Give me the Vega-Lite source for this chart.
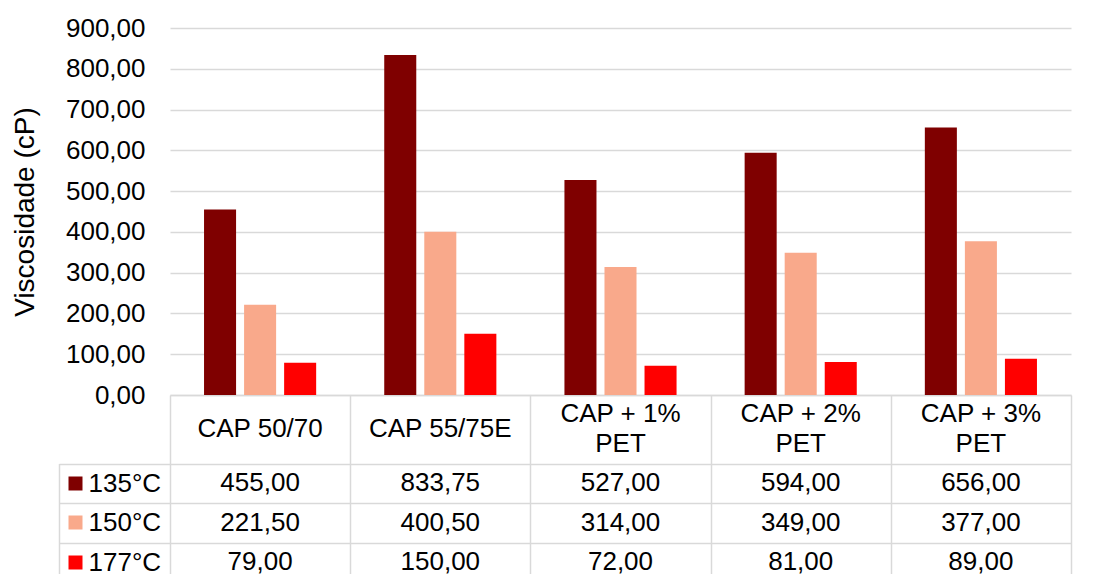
{
  "$schema": "https://vega.github.io/schema/vega-lite/v6.json",
  "autosize": {"type": "none"},
  "padding": {"left": 170, "top": 28, "right": 22, "bottom": 179},
  "width": 901,
  "height": 367,
  "config": {
    "font": "Liberation Sans",
    "view": {"stroke": null},
    "axis": {"labelColor": "#000000", "titleColor": "#000000", "labelFont": "Liberation Sans", "titleFont": "Liberation Sans"}
  },
  "data": {
    "values": [
      {"amostra": "CAP 50/70", "temperatura": "135°C", "viscosidade": 455.00},
      {"amostra": "CAP 50/70", "temperatura": "150°C", "viscosidade": 221.50},
      {"amostra": "CAP 50/70", "temperatura": "177°C", "viscosidade": 79.00},
      {"amostra": "CAP 55/75E", "temperatura": "135°C", "viscosidade": 833.75},
      {"amostra": "CAP 55/75E", "temperatura": "150°C", "viscosidade": 400.50},
      {"amostra": "CAP 55/75E", "temperatura": "177°C", "viscosidade": 150.00},
      {"amostra": "CAP + 1% PET", "temperatura": "135°C", "viscosidade": 527.00},
      {"amostra": "CAP + 1% PET", "temperatura": "150°C", "viscosidade": 314.00},
      {"amostra": "CAP + 1% PET", "temperatura": "177°C", "viscosidade": 72.00},
      {"amostra": "CAP + 2% PET", "temperatura": "135°C", "viscosidade": 594.00},
      {"amostra": "CAP + 2% PET", "temperatura": "150°C", "viscosidade": 349.00},
      {"amostra": "CAP + 2% PET", "temperatura": "177°C", "viscosidade": 81.00},
      {"amostra": "CAP + 3% PET", "temperatura": "135°C", "viscosidade": 656.00},
      {"amostra": "CAP + 3% PET", "temperatura": "150°C", "viscosidade": 377.00},
      {"amostra": "CAP + 3% PET", "temperatura": "177°C", "viscosidade": 89.00}
    ]
  },
  "resolve": {"scale": {"y": "independent"}, "axis": {"y": "independent"}},
  "layer": [
    {
      "mark": {"type": "bar"},
      "encoding": {
        "x": {
          "field": "amostra", "type": "nominal",
          "sort": ["CAP 50/70", "CAP 55/75E", "CAP + 1% PET", "CAP + 2% PET", "CAP + 3% PET"],
          "scale": {"type": "band", "paddingInner": 0, "paddingOuter": 0},
          "axis": {
            "title": null, "orient": "bottom", "labels": false,
            "ticks": true, "tickSize": 187, "tickBand": "extent", "tickColor": "#d9d9d9", "tickWidth": 1.5,
            "domain": true, "domainColor": "#d9d9d9", "domainWidth": 1.5, "grid": false
          }
        },
        "xOffset": {
          "field": "temperatura", "type": "nominal",
          "sort": ["135°C", "150°C", "177°C"],
          "scale": {"paddingInner": 0.2, "paddingOuter": 0.85}
        },
        "y": {
          "field": "viscosidade", "type": "quantitative",
          "scale": {"domain": [0, 900], "nice": false},
          "axis": {
            "orient": "left",
            "values": [0, 100, 200, 300, 400, 500, 600, 700, 800, 900],
            "labelExpr": "replace(format(datum.value, '.2f'), '.', ',')",
            "title": "Viscosidade (cP)", "titleFontSize": 28,
            "titleFontWeight": "normal", "titlePadding": 26,
            "labelFontSize": 26, "labelPadding": 25, "ticks": false, "domain": false,
            "gridColor": "#d9d9d9", "gridWidth": 1.5
          }
        },
        "color": {
          "field": "temperatura", "type": "nominal",
          "scale": {"domain": ["135°C", "150°C", "177°C"], "range": ["#7f0000", "#f9a98b", "#ff0000"]},
          "legend": null
        }
      }
    },
    {
      "transform": [
        {"filter": "datum.temperatura === '135°C' && indexof(datum.amostra, ' PET') < 0"}
      ],
      "mark": {"type": "text", "fontSize": 26, "baseline": "middle", "align": "center", "color": "#000000"},
      "encoding": {
        "x": {
          "field": "amostra", "type": "nominal",
          "sort": ["CAP 50/70", "CAP 55/75E", "CAP + 1% PET", "CAP + 2% PET", "CAP + 3% PET"],
          "scale": {"type": "band", "paddingInner": 0, "paddingOuter": 0},
          "axis": {
            "title": null, "orient": "bottom", "labels": false,
            "ticks": true, "tickSize": 187, "tickBand": "extent", "tickColor": "#d9d9d9", "tickWidth": 1.5,
            "domain": true, "domainColor": "#d9d9d9", "domainWidth": 1.5, "grid": false
          }
        },
        "y": {
          "datum": "amostra", "type": "nominal",
          "scale": {"type": "band", "domain": ["amostra"], "range": [367, 435.5], "paddingInner": 0, "paddingOuter": 0},
          "axis": null
        },
        "text": {"field": "amostra", "type": "nominal"}
      }
    },
    {
      "transform": [
        {"filter": "datum.temperatura === '135°C' && indexof(datum.amostra, ' PET') > 0"},
        {"calculate": "replace(datum.amostra, ' PET', '\\nPET')", "as": "cabecalho"}
      ],
      "mark": {"type": "text", "fontSize": 26, "baseline": "middle", "align": "center", "color": "#000000", "lineBreak": "\n", "lineHeight": 30, "dy": -15},
      "encoding": {
        "x": {
          "field": "amostra", "type": "nominal",
          "sort": ["CAP 50/70", "CAP 55/75E", "CAP + 1% PET", "CAP + 2% PET", "CAP + 3% PET"],
          "scale": {"type": "band", "paddingInner": 0, "paddingOuter": 0},
          "axis": {
            "title": null, "orient": "bottom", "labels": false,
            "ticks": true, "tickSize": 187, "tickBand": "extent", "tickColor": "#d9d9d9", "tickWidth": 1.5,
            "domain": true, "domainColor": "#d9d9d9", "domainWidth": 1.5, "grid": false
          }
        },
        "y": {
          "datum": "amostra", "type": "nominal",
          "scale": {"type": "band", "domain": ["amostra"], "range": [367, 435.5], "paddingInner": 0, "paddingOuter": 0},
          "axis": null
        },
        "text": {"field": "cabecalho", "type": "nominal"}
      }
    },
    {
      "transform": [
        {"calculate": "replace(format(datum.viscosidade, '.2f'), '.', ',')", "as": "rotulo"}
      ],
      "mark": {"type": "text", "fontSize": 26, "baseline": "middle", "align": "center", "color": "#000000"},
      "encoding": {
        "x": {
          "field": "amostra", "type": "nominal",
          "sort": ["CAP 50/70", "CAP 55/75E", "CAP + 1% PET", "CAP + 2% PET", "CAP + 3% PET"],
          "scale": {"type": "band", "paddingInner": 0, "paddingOuter": 0},
          "axis": {
            "title": null, "orient": "bottom", "labels": false,
            "ticks": true, "tickSize": 187, "tickBand": "extent", "tickColor": "#d9d9d9", "tickWidth": 1.5,
            "domain": true, "domainColor": "#d9d9d9", "domainWidth": 1.5, "grid": false
          }
        },
        "y": {
          "field": "temperatura", "type": "nominal",
          "sort": ["135°C", "150°C", "177°C"],
          "scale": {"type": "band", "domain": ["135°C", "150°C", "177°C"], "range": [435.5, 554], "paddingInner": 0, "paddingOuter": 0},
          "axis": {
            "orient": "left", "title": null, "domain": false,
            "grid": true, "tickBand": "extent", "gridColor": "#d9d9d9", "gridWidth": 1.5,
            "ticks": true, "tickSize": 111, "tickColor": "#d9d9d9", "tickWidth": 1.5,
            "labelFontSize": 26, "labelAlign": "left", "labelPadding": -29, "labelBaseline": "middle"
          }
        },
        "text": {"field": "rotulo", "type": "nominal"}
      }
    },
    {
      "mark": {"type": "text", "text": ""},
      "encoding": {
        "y": {
          "field": "temperatura", "type": "nominal",
          "sort": ["135°C", "150°C", "177°C"],
          "scale": {"type": "band", "domain": ["135°C", "150°C", "177°C"], "range": [435.5, 554], "paddingInner": 0, "paddingOuter": 0},
          "axis": {
            "orient": "left", "title": null, "offset": 88, "domain": false, "grid": false,
            "labels": false, "ticks": true, "tickSize": 14, "tickWidth": 14,
            "tickColor": {
              "condition": [
                {"test": "datum.value === '135°C'", "value": "#7f0000"},
                {"test": "datum.value === '150°C'", "value": "#f9a98b"}
              ],
              "value": "#ff0000"
            }
          }
        }
      }
    },
    {
      "mark": {"type": "text", "text": ""},
      "encoding": {
        "y": {
          "field": "temperatura", "type": "nominal",
          "sort": ["135°C", "150°C", "177°C"],
          "scale": {"type": "band", "domain": ["135°C", "150°C", "177°C"], "range": [435.5, 554], "paddingInner": 0, "paddingOuter": 0},
          "axis": {
            "orient": "left", "title": null, "offset": 111, "domain": true,
            "domainColor": "#d9d9d9", "domainWidth": 1.5, "grid": false,
            "labels": false, "ticks": false
          }
        }
      }
    }
  ]
}
